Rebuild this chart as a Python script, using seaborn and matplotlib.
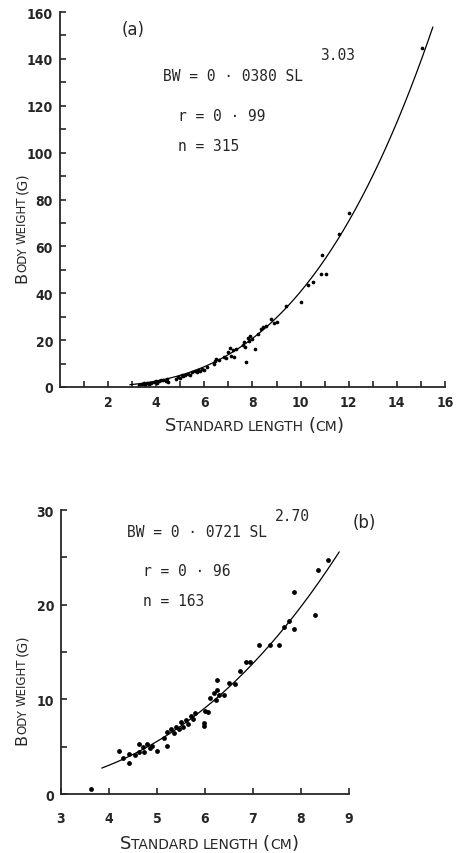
import numpy as np
import pandas as pd
import seaborn as sns
import matplotlib.pyplot as plt

sns.set_style('ticks')
plt.rcParams['font.family'] = ['DejaVu Sans']

# (a) length-weight data
sl_a = [3.3, 3.4, 3.5, 3.55, 3.6, 3.7, 3.75, 3.8, 3.9, 4.0, 4.05, 4.1, 4.2, 4.3, 4.4, 4.45, 4.5,
        4.8, 4.9, 5.0, 5.05, 5.1, 5.2, 5.3, 5.4,
        5.5, 5.6, 5.7, 5.75, 5.8, 5.9, 6.0, 6.1,
        6.4, 6.45, 6.5, 6.6,
        6.8, 6.9, 7.0, 7.05, 7.1, 7.2, 7.25, 7.3,
        7.6, 7.65, 7.7, 7.75, 7.8, 7.85, 7.9, 8.0,
        8.12, 8.23, 8.37, 8.45, 8.58, 8.78, 8.9, 9.0,
        9.4, 10.0, 10.3, 10.5, 10.85, 10.9, 11.05, 11.6, 12.0, 15.05]
bw_a = [0.9, 1.2, 1.5, 1.0, 1.8, 1.4, 1.9, 1.6, 2.0, 2.4, 1.9, 2.6, 2.8, 3.0, 2.4, 3.2, 2.1,
        3.6, 4.3, 3.9, 5.0, 4.6, 5.3, 5.7, 5.2,
        6.2, 6.8, 6.4, 7.2, 7.0, 7.8, 7.4, 8.4,
        10.0, 11.2, 12.0, 11.5,
        13.0, 12.2, 14.8, 16.6, 13.4, 15.6, 12.8, 16.0,
        17.8, 19.2, 17.0, 10.5, 21.0, 19.6, 21.8, 20.6,
        16.2, 22.4, 24.7, 25.5, 26.2, 29.0, 27.2, 27.8,
        34.7, 36.1, 43.6, 44.8, 48.2, 56.3, 48.2, 65.1, 74.2, 144.5]

# (b)
sl_b = [3.63, 4.2, 4.3, 4.42, 4.42, 4.55, 4.63, 4.63, 4.7, 4.74, 4.8, 4.85, 4.9, 5.0,
        5.15, 5.2, 5.22, 5.3, 5.35, 5.4, 5.45, 5.5, 5.55, 5.6, 5.65, 5.7, 5.75, 5.8,
        5.98, 5.98, 6.0, 6.07, 6.1, 6.2, 6.23, 6.25, 6.26, 6.3, 6.4, 6.5, 6.63,
        6.74, 6.85, 6.93, 7.13, 7.35, 7.54, 7.64, 7.75, 7.86, 7.86, 8.3, 8.35, 8.56]
bw_b = [0.5, 4.6, 3.8, 4.2, 3.3, 4.1, 5.3, 4.4, 5.0, 4.4, 5.3, 4.9, 5.1, 4.6,
        5.9, 5.1, 6.6, 6.9, 6.5, 7.1, 6.9, 7.6, 7.1, 7.8, 7.4, 8.2, 7.9, 8.6,
        7.5, 7.2, 8.8, 8.7, 10.1, 10.7, 9.9, 12.0, 11.0, 10.5, 10.5, 11.7, 11.6,
        13.0, 14.0, 14.0, 15.8, 15.7, 15.8, 17.7, 18.3, 17.4, 21.3, 18.9, 23.7, 24.7]

# fitted curves BW = a * SL^b
a_a, b_a, range_a = 0.0380, 3.03, (2.9, 15.5)
a_b, b_b, range_b = 0.0721, 2.70, (3.85, 8.8)

df_a = pd.DataFrame({'sl': sl_a, 'bw': bw_a})
df_b = pd.DataFrame({'sl': sl_b, 'bw': bw_b})
xs_a = np.linspace(*range_a, 200)
xs_b = np.linspace(*range_b, 200)
fit_a = pd.DataFrame({'sl': xs_a, 'bw': a_a * xs_a ** b_a})
fit_b = pd.DataFrame({'sl': xs_b, 'bw': a_b * xs_b ** b_b})

fig = plt.figure(figsize=(4.62, 8.54), dpi=100)
ax1 = fig.add_axes([0.130, 0.5457, 0.833, 0.439])
ax2 = fig.add_axes([0.132, 0.069, 0.623, 0.3325])

sns.scatterplot(data=df_a, x='sl', y='bw', ax=ax1, color='black', s=7, linewidth=0)
sns.lineplot(data=fit_a, x='sl', y='bw', ax=ax1, color='black', linewidth=0.9)
sns.scatterplot(data=df_b, x='sl', y='bw', ax=ax2, color='black', s=12, linewidth=0)
sns.lineplot(data=fit_b, x='sl', y='bw', ax=ax2, color='black', linewidth=0.9)

ax1.set_xlim(0, 16)
ax1.set_ylim(0, 160)
ax1.set_xticks(range(2, 17, 2))
ax1.set_xticks(range(1, 16, 2), minor=True)
ax1.set_yticks(range(0, 161, 20))
ax1.set_yticks(range(10, 160, 20), minor=True)

ax2.set_xlim(3, 9)
ax2.set_ylim(0, 30)
ax2.set_xticks(range(3, 10))
ax2.set_yticks([0, 10, 20, 30])
ax2.set_yticks([5, 15, 25], minor=True)

for ax, xpad in [(ax1, 6), (ax2, 12)]:
    sns.despine(ax=ax)
    ax.set_xlabel('')
    ax.set_ylabel('')
    for sp in ['left', 'bottom']:
        ax.spines[sp].set_linewidth(1.3)
    ax.tick_params(axis='both', which='both', direction='in', length=4, width=1.2)
    ax.tick_params(axis='x', pad=xpad)
    ax.tick_params(axis='y', pad=5)
    for lab in ax.get_xticklabels() + ax.get_yticklabels():
        lab.set_fontweight('bold')
        lab.set_fontstretch('condensed')
        lab.set_fontsize(10)

mono = dict(family='DejaVu Sans Mono', fontsize=10.5, ha='left', va='baseline')
ax1.text(2.55, 150.6, '(a)', fontsize=12, ha='left', va='baseline')
ax1.text(4.27, 131, 'BW = 0 · 0380 SL', **mono)
ax1.text(10.8, 140, '3.03', **mono)
ax1.text(4.9, 114, 'r = 0 · 99', **mono)
ax1.text(4.9, 101, 'n = 315', **mono)

ax2.text(9.08, 28.2, '(b)', fontsize=12, ha='left', va='baseline')
ax2.text(4.375, 27.25, 'BW = 0 · 0721 SL', **mono)
ax2.text(7.46, 29.0, '2.70', **mono)
ax2.text(4.7, 23.15, 'r = 0 · 96', **mono)
ax2.text(4.7, 19.97, 'n = 163', **mono)

# small-caps axis labels, pieces chained one after another (pixel positions)
W, H = 462, 854
renderer = fig.canvas.get_renderer()


def small_caps(x, y, parts, vertical=False):
    for s, size, gap in parts:
        t = fig.text(x / W, 1 - y / H, s, fontsize=size, rotation=90 if vertical else 0,
                     rotation_mode='anchor', ha='left', va='baseline')
        bb = t.get_window_extent(renderer)
        if vertical:
            y -= bb.height + gap
        else:
            x += bb.width + gap


big, small = 13, 10
xlab = [('S', big, 0), ('TANDARD', small, 4), ('LENGTH', small, 4),
        ('(', big, 0), ('CM', small, 0), (')', big, 0)]
small_caps(165, 431, xlab)
small_caps(120, 849, xlab)

ylab = [('B', 11.5, 0), ('ODY', 8.5, 3), ('WEIGHT', 8.5, 3), ('(G)', 10, 0)]
small_caps(26, 283, ylab, vertical=True)
small_caps(26, 745, ylab, vertical=True)

fig.savefig('out.png', dpi=100)
